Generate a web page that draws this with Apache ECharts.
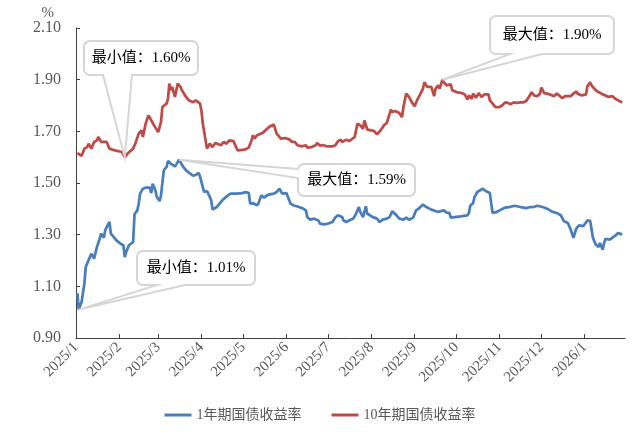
<!DOCTYPE html>
<html lang="zh-CN">
<head>
<meta charset="utf-8">
<title>1年期与10年期国债收益率</title>
<script src="https://cdn.jsdelivr.net/npm/echarts@6/dist/echarts.min.js"></script>
<style>
  html, body { margin: 0; padding: 0; background: #fff; }
  #main { width: 640px; height: 432px; }
</style>
</head>
<body>
<div id="main"></div>
<script>
// x 轴月份刻度
var monthLabels = ['2025/1', '2025/2', '2025/3', '2025/4', '2025/5', '2025/6', '2025/7',
  '2025/8', '2025/9', '2025/10', '2025/11', '2025/12', '2026/1'];

var seriesNames = ['1年期国债收益率', '10年期国债收益率'];

// 1年期国债收益率 (%)
var dates1y = ['2025-01-02','2025-01-03','2025-01-05','2025-01-07','2025-01-08','2025-01-10','2025-01-12','2025-01-13','2025-01-14','2025-01-16',
  '2025-01-18','2025-01-19','2025-01-21','2025-01-22','2025-01-24','2025-01-25','2025-01-26','2025-01-28','2025-01-30','2025-02-02',
  '2025-02-04','2025-02-05','2025-02-06','2025-02-08','2025-02-11','2025-02-12','2025-02-14','2025-02-15','2025-02-16','2025-02-18',
  '2025-02-20','2025-02-23','2025-02-24','2025-02-25','2025-02-27','2025-02-28','2025-03-02','2025-03-03','2025-03-05','2025-03-07',
  '2025-03-08','2025-03-10','2025-03-11','2025-03-13','2025-03-14','2025-03-16','2025-03-17','2025-03-19','2025-03-21','2025-03-24',
  '2025-03-26','2025-03-28','2025-03-30','2025-03-31','2025-04-02','2025-04-03','2025-04-05','2025-04-07','2025-04-08','2025-04-09',
  '2025-04-12','2025-04-14','2025-04-16','2025-04-20','2025-04-22','2025-04-26','2025-04-30','2025-05-03','2025-05-05','2025-05-06',
  '2025-05-08','2025-05-11','2025-05-12','2025-05-14','2025-05-16','2025-05-18','2025-05-20','2025-05-23','2025-05-25','2025-05-27',
  '2025-05-29','2025-05-30','2025-06-01','2025-06-04','2025-06-06','2025-06-10','2025-06-13','2025-06-15','2025-06-16','2025-06-18',
  '2025-06-21','2025-06-24','2025-06-25','2025-06-28','2025-07-01','2025-07-04','2025-07-06','2025-07-08','2025-07-11','2025-07-12',
  '2025-07-14','2025-07-17','2025-07-19','2025-07-21','2025-07-23','2025-07-24','2025-07-26','2025-07-28','2025-07-29','2025-07-31',
  '2025-08-02','2025-08-05','2025-08-07','2025-08-09','2025-08-12','2025-08-14','2025-08-16','2025-08-19','2025-08-21','2025-08-24',
  '2025-08-26','2025-08-28','2025-08-31','2025-09-02','2025-09-04','2025-09-07','2025-09-09','2025-09-13','2025-09-18','2025-09-22',
  '2025-09-24','2025-09-26','2025-09-27','2025-10-04','2025-10-09','2025-10-10','2025-10-11','2025-10-13','2025-10-14','2025-10-16',
  '2025-10-20','2025-10-22','2025-10-25','2025-10-26','2025-10-27','2025-10-30','2025-11-01','2025-11-05','2025-11-08','2025-11-12',
  '2025-11-16','2025-11-20','2025-11-23','2025-11-26','2025-11-28','2025-12-02','2025-12-06','2025-12-09','2025-12-12','2025-12-15',
  '2025-12-17','2025-12-20','2025-12-22','2025-12-24','2025-12-26','2025-12-28','2025-12-31','2026-01-03','2026-01-05','2026-01-07',
  '2026-01-09','2026-01-11','2026-01-12','2026-01-14','2026-01-15','2026-01-16','2026-01-19','2026-01-21','2026-01-23','2026-01-25',
  '2026-01-28'];
var yield1y = [1.074,1.010,1.039,1.110,1.175,1.201,1.226,1.233,1.207,1.252,
  1.284,1.304,1.288,1.317,1.340,1.349,1.304,1.291,1.278,1.265,
  1.259,1.213,1.233,1.259,1.271,1.379,1.394,1.420,1.459,1.478,
  1.482,1.482,1.461,1.497,1.471,1.446,1.430,1.452,1.549,1.562,
  1.585,1.575,1.581,1.564,1.572,1.590,1.585,1.562,1.549,1.536,
  1.528,1.531,1.539,1.526,1.484,1.465,1.469,1.446,1.433,1.397,
  1.407,1.420,1.433,1.452,1.459,1.459,1.461,1.465,1.461,1.420,
  1.422,1.414,1.422,1.452,1.443,1.452,1.456,1.459,1.465,1.478,
  1.459,1.465,1.461,1.420,1.414,1.407,1.401,1.394,1.368,1.358,
  1.362,1.355,1.343,1.340,1.343,1.349,1.366,1.375,1.368,1.355,
  1.349,1.358,1.362,1.381,1.407,1.388,1.368,1.410,1.381,1.375,
  1.368,1.362,1.349,1.358,1.362,1.368,1.391,1.375,1.362,1.358,
  1.366,1.358,1.366,1.394,1.401,1.417,1.408,1.397,1.388,1.394,
  1.385,1.384,1.366,1.371,1.375,1.385,1.413,1.422,1.446,1.465,
  1.478,1.469,1.461,1.420,1.384,1.388,1.394,1.405,1.407,1.412,
  1.407,1.403,1.407,1.408,1.412,1.407,1.398,1.388,1.384,1.375,
  1.353,1.345,1.320,1.288,1.323,1.336,1.333,1.355,1.353,1.288,
  1.262,1.252,1.268,1.242,1.268,1.284,1.281,1.288,1.296,1.306,
  1.301];

// 10年期国债收益率 (%)
var dates10y = ['2025-01-02','2025-01-05','2025-01-07','2025-01-09','2025-01-10','2025-01-12','2025-01-14','2025-01-16','2025-01-17','2025-01-19',
  '2025-01-23','2025-01-25','2025-01-29','2025-02-03','2025-02-05','2025-02-07','2025-02-11','2025-02-13','2025-02-15','2025-02-17',
  '2025-02-18','2025-02-20','2025-02-22','2025-02-24','2025-02-26','2025-02-27','2025-03-01','2025-03-03','2025-03-04','2025-03-07',
  '2025-03-08','2025-03-09','2025-03-10','2025-03-11','2025-03-13','2025-03-15','2025-03-16','2025-03-17','2025-03-18','2025-03-21',
  '2025-03-23','2025-03-26','2025-03-28','2025-03-31','2025-04-01','2025-04-02','2025-04-04','2025-04-05','2025-04-07','2025-04-09',
  '2025-04-11','2025-04-15','2025-04-17','2025-04-19','2025-04-21','2025-04-22','2025-04-24','2025-04-27','2025-05-02','2025-05-05',
  '2025-05-07','2025-05-08','2025-05-09','2025-05-11','2025-05-15','2025-05-17','2025-05-20','2025-05-23','2025-05-24','2025-05-25',
  '2025-05-28','2025-05-31','2025-06-03','2025-06-05','2025-06-07','2025-06-09','2025-06-12','2025-06-15','2025-06-16','2025-06-19',
  '2025-06-22','2025-06-23','2025-06-25','2025-06-27','2025-06-30','2025-07-01','2025-07-04','2025-07-06','2025-07-08','2025-07-10',
  '2025-07-11','2025-07-14','2025-07-16','2025-07-20','2025-07-22','2025-07-24','2025-07-26','2025-07-27','2025-07-29','2025-08-01',
  '2025-08-03','2025-08-05','2025-08-08','2025-08-10','2025-08-12','2025-08-15','2025-08-16','2025-08-18','2025-08-21','2025-08-23',
  '2025-08-24','2025-08-26','2025-08-28','2025-08-30','2025-09-01','2025-09-03','2025-09-05','2025-09-07','2025-09-08','2025-09-10',
  '2025-09-11','2025-09-13','2025-09-15','2025-09-16','2025-09-18','2025-09-19','2025-09-21','2025-09-22','2025-09-24','2025-09-27',
  '2025-09-28','2025-10-01','2025-10-05','2025-10-07','2025-10-09','2025-10-10','2025-10-12','2025-10-13','2025-10-15','2025-10-17',
  '2025-10-19','2025-10-21','2025-10-24','2025-10-25','2025-10-27','2025-10-29','2025-11-01','2025-11-03','2025-11-05','2025-11-07',
  '2025-11-09','2025-11-11','2025-11-13','2025-11-16','2025-11-18','2025-11-20','2025-11-22','2025-11-24','2025-11-26','2025-11-28',
  '2025-11-30','2025-12-01','2025-12-03','2025-12-05','2025-12-08','2025-12-10','2025-12-12','2025-12-14','2025-12-16','2025-12-18',
  '2025-12-19','2025-12-22','2025-12-24','2025-12-26','2025-12-27','2025-12-30','2026-01-02','2026-01-03','2026-01-05','2026-01-06',
  '2026-01-09','2026-01-11','2026-01-14','2026-01-16','2026-01-18','2026-01-21','2026-01-23','2026-01-24','2026-01-26','2026-01-28'];
var yield10y = [1.616,1.605,1.633,1.639,1.652,1.633,1.659,1.665,1.678,1.659,
  1.659,1.633,1.626,1.620,1.600,1.614,1.633,1.659,1.691,1.704,
  1.678,1.730,1.762,1.743,1.723,1.717,1.697,1.736,1.794,1.807,
  1.826,1.885,1.859,1.872,1.833,1.885,1.890,1.872,1.859,1.833,
  1.820,1.813,1.820,1.807,1.781,1.730,1.665,1.633,1.652,1.639,
  1.655,1.646,1.659,1.652,1.665,1.659,1.662,1.626,1.629,1.637,
  1.665,1.685,1.672,1.685,1.694,1.704,1.719,1.726,1.723,1.691,
  1.672,1.674,1.669,1.659,1.659,1.646,1.642,1.646,1.637,1.639,
  1.646,1.655,1.645,1.647,1.642,1.639,1.642,1.645,1.662,1.668,
  1.659,1.668,1.662,1.678,1.730,1.723,1.710,1.742,1.707,1.704,
  1.701,1.688,1.707,1.723,1.732,1.784,1.775,1.779,1.771,1.755,
  1.794,1.846,1.833,1.813,1.797,1.823,1.843,1.865,1.890,1.872,
  1.878,1.872,1.836,1.865,1.878,1.865,1.900,1.890,1.878,1.882,
  1.859,1.852,1.848,1.843,1.823,1.839,1.826,1.846,1.830,1.848,
  1.833,1.843,1.843,1.820,1.807,1.794,1.794,1.801,1.812,1.810,
  1.805,1.812,1.810,1.812,1.812,1.817,1.833,1.851,1.838,1.836,
  1.846,1.869,1.848,1.846,1.841,1.836,1.846,1.838,1.828,1.836,
  1.838,1.836,1.846,1.854,1.846,1.839,1.843,1.874,1.890,1.878,
  1.859,1.852,1.843,1.839,1.833,1.836,1.826,1.830,1.817,1.812];

var colors = ['#4a7ebb', '#be4b48'];
var serifCJK = "'Liberation Serif', 'Noto Sans CJK SC'";

function toTime(s) {
  var p = s.split(/[-\/]/);
  return new Date(+p[0], +p[1] - 1, p[2] ? +p[2] : 1).getTime();
}
function pairs(ds, vs) {
  return ds.map(function (d, i) { return [toTime(d), vs[i]]; });
}

var monthTicks = monthLabels.map(toTime);
var data1y = pairs(dates1y, yield1y);
var data10y = pairs(dates10y, yield10y);

var myChart = echarts.init(document.getElementById('main'), null, { renderer: 'canvas' });

myChart.setOption({
  backgroundColor: '#fff',
  animation: false,
  grid: { left: 76, right: 15, top: 28, bottom: 94, outerBoundsMode: 'none' },
  legend: {
    data: seriesNames,
    top: 403,
    left: 'center',
    icon: 'rect',
    itemWidth: 27,
    itemHeight: 3,
    itemGap: 30,
    textStyle: { color: '#595959', fontSize: 14, fontFamily: serifCJK }
  },
  xAxis: {
    // 日期以时间戳放在数值轴上，刻度固定在每月 1 日
    type: 'value',
    min: toTime('2025-01-01'),
    max: toTime('2026-01-30'),
    axisLine: { show: true, onZero: false, lineStyle: { color: '#404040', width: 1 } },
    axisTick: { show: true, inside: true, length: 4, customValues: monthTicks,
      lineStyle: { color: '#404040' } },
    axisLabel: {
      customValues: monthTicks,
      rotate: 45,
      margin: 7,
      color: '#595959',
      fontSize: 15,
      fontFamily: serifCJK,
      formatter: function (v) {
        var i = monthTicks.indexOf(v);
        return i >= 0 ? monthLabels[i] : '';
      }
    },
    splitLine: { show: false }
  },
  yAxis: {
    type: 'value',
    min: 0.9,
    max: 2.1,
    interval: 0.2,
    name: '%',
    nameLocation: 'end',
    nameGap: 7,
    nameTextStyle: { color: '#595959', fontSize: 15, fontFamily: serifCJK,
      align: 'right', padding: [0, 22, 0, 0] },
    axisLine: { show: true, lineStyle: { color: '#404040', width: 1 } },
    axisTick: { show: true, inside: true, length: 4, lineStyle: { color: '#404040' } },
    axisLabel: {
      color: '#595959',
      fontSize: 16,
      fontFamily: serifCJK,
      margin: 15,
      formatter: function (v) { return v.toFixed(2); }
    },
    splitLine: { show: false }
  },
  series: [{
    name: seriesNames[0],
    type: 'line',
    data: data1y,
    showSymbol: false,
    color: colors[0],
    lineStyle: { width: 2.75, color: colors[0] }
  }, {
    name: seriesNames[1],
    type: 'line',
    data: data10y,
    showSymbol: false,
    color: colors[1],
    lineStyle: { width: 2.75, color: colors[1] }
  }]
});

// 标注框：最小值 / 最大值
function extreme(data, kind) {
  var k = 0;
  for (var i = 1; i < data.length; i++) {
    if (kind === 'min' ? data[i][1] < data[k][1] : data[i][1] > data[k][1]) k = i;
  }
  return data[k];
}

function bubble(b, side, base, tip) {
  var x = b[0], y = b[1], w = b[2], h = b[3], r = 6, pts = [];
  function arc(cx, cy, a0) {
    for (var k = 0; k <= 6; k++) {
      var a = (a0 + 15 * k) * Math.PI / 180;
      pts.push([cx + r * Math.cos(a), cy + r * Math.sin(a)]);
    }
  }
  arc(x + w - r, y + r, -90);
  arc(x + w - r, y + h - r, 0);
  if (side === 'bottom') pts.push([base[1], y + h], tip, [base[0], y + h]);
  arc(x + r, y + h - r, 90);
  if (side === 'left') pts.push([x, base[1]], tip, [x, base[0]]);
  arc(x + r, y + r, 180);
  return pts;
}

var callouts = [
  { data: data10y, kind: 'min', box: [84, 41, 114, 34], side: 'bottom', base: [103, 132] },
  { data: data10y, kind: 'max', box: [490, 16, 124, 38], side: 'bottom', base: [510, 542] },
  { data: data1y, kind: 'max', box: [298, 164, 117, 32], side: 'left', base: [169, 178] },
  { data: data1y, kind: 'min', box: [137, 251, 118, 34], side: 'bottom', base: [157, 185] }
];

var graphics = [];
callouts.forEach(function (c) {
  var pt = extreme(c.data, c.kind);
  var tip = myChart.convertToPixel({ gridIndex: 0 }, pt);
  graphics.push({
    type: 'polygon',
    z: 50,
    shape: { points: bubble(c.box, c.side, c.base, tip) },
    style: { fill: '#fff', stroke: '#d6d6d6', lineWidth: 2 }
  });
  graphics.push({
    type: 'text',
    z: 51,
    x: c.box[0] + c.box[2] / 2,
    y: c.box[1] + c.box[3] / 2,
    style: {
      text: (c.kind === 'min' ? '最小值：' : '最大值：') + pt[1].toFixed(2) + '%',
      fill: '#000',
      font: '15px ' + serifCJK,
      align: 'center',
      verticalAlign: 'middle'
    }
  });
});

myChart.setOption({ graphic: graphics });
</script>
</body>
</html>
